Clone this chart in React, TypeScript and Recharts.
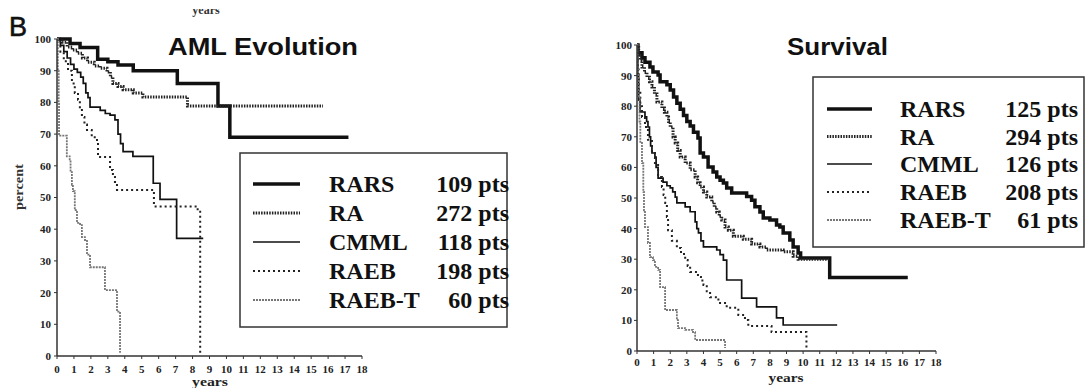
import React from "react";
import { LineChart, Line, XAxis, YAxis } from "recharts";

// ---------- data (years, percent) ----------
const xTicks = [0, 1, 2, 3, 4, 5, 6, 7, 8, 9, 10, 11, 12, 13, 14, 15, 16, 17, 18];
const yTicks = [0, 10, 20, 30, 40, 50, 60, 70, 80, 90, 100];

const seriesNames = ["RARS", "RA", "CMML", "RAEB", "RAEB-T"];
const amlCounts = ["109 pts", "272 pts", "118 pts", "198 pts", "60 pts"];
const survCounts = ["125 pts", "294 pts", "126 pts", "208 pts", "61 pts"];

const amlRARS = [[0,100],[0.77,98.6],[1.36,97.3],[2.4,93.6],[3.0,92.8],[3.6,91.8],[4.5,90],[7.1,86],[9.5,78.9],[10.2,69],[17.2,69]];
const amlRA = [[0,100],[0.3,99],[0.6,97.5],[0.9,96.5],[1.2,95.5],[1.5,94],[1.8,92.7],[2.2,91.5],[2.55,90.8],[2.95,89.6],[3.15,88],[3.3,86],[3.6,85],[3.9,84],[4.5,83],[5.07,81.7],[7.7,78.9],[15.7,78.9]];
const amlCMML = [[0,100],[0.2,98],[0.4,96],[0.6,94],[0.8,92],[1.0,90.5],[1.2,89.5],[1.4,88],[1.55,86],[1.7,83],[1.83,81.5],[1.95,78.5],[2.55,77.5],[2.85,76.5],[3.13,76],[3.42,74.5],[3.6,70],[3.75,67],[3.9,64.5],[4.48,63],[5.68,54.5],[6.08,49.4],[7.06,37.1],[8.63,37.1]];
const amlRAEB = [[0,100],[0.2,96],[0.4,93],[0.65,90],[0.88,86],[1.05,83],[1.24,80.8],[1.35,78],[1.47,75.4],[1.62,73],[1.77,71.3],[2.05,69],[2.36,67.2],[2.42,62.8],[3.13,58.7],[3.3,56.5],[3.42,54.9],[3.54,52.4],[5.72,47.2],[8.3,45.5],[8.45,1]];
const amlRAEBT = [[0,100],[0.05,90],[0.1,80],[0.12,69.5],[0.58,63],[0.75,62],[0.8,58],[0.88,54],[0.94,52],[1.05,46],[1.18,42],[1.36,41.3],[1.47,37.5],[1.65,36.6],[1.77,32],[1.95,28],[2.83,20.8],[3.54,14],[3.72,1]];

const survRARS = [[0,100],[0.06,97.5],[0.3,95.8],[0.48,94.4],[0.78,92.8],[0.96,91.2],[1.27,90.2],[1.39,88],[1.8,87],[2.0,85.3],[2.2,83],[2.4,81],[2.6,79],[2.8,77],[3.0,75],[3.2,73.5],[3.4,71.5],[3.67,69.6],[3.8,64.7],[4.0,63.4],[4.28,60.1],[4.58,58.5],[4.8,56.9],[5.0,55.8],[5.2,54.9],[5.4,53.3],[5.7,51.6],[6.6,50.5],[6.9,49.3],[7.1,47.1],[7.4,45.4],[7.6,43.5],[8.0,42.8],[8.4,41.2],[8.6,40.5],[8.8,38.6],[9.2,36.3],[9.4,34],[9.7,32],[9.85,30.4],[11.6,24],[16.3,24]];
const survRA = [[0,100],[0.1,97],[0.2,95],[0.3,92.8],[0.45,91],[0.6,89.5],[0.75,88],[0.9,86.3],[1.05,84],[1.2,81.4],[1.5,79.4],[1.65,78],[1.8,76.5],[1.9,75],[2.0,73.2],[2.17,69.9],[2.3,68],[2.45,65.5],[2.6,63.4],[2.9,61.4],[3.2,59.2],[3.5,56.9],[3.65,55],[3.8,53.6],[4.0,52],[4.2,50.3],[4.5,48.7],[4.65,47],[4.8,45.4],[4.95,44],[5.1,42.8],[5.3,40.5],[5.5,39.5],[5.8,37.5],[6.4,36.5],[6.9,35],[7.4,34],[7.8,33],[8.8,32.4],[9.4,31],[9.7,30],[11.6,30]];
const survCMML = [[0,100],[0.05,90],[0.1,82],[0.18,78.1],[0.48,76.5],[0.58,75],[0.66,73.2],[0.75,70],[0.82,67],[0.9,64.7],[1.08,63.4],[1.15,60],[1.27,56.5],[1.57,55.2],[1.8,54],[2.0,53.3],[2.15,52],[2.3,50.3],[2.4,48.4],[2.9,47.1],[3.2,45.5],[3.5,42.2],[3.6,40],[3.7,38.6],[3.85,36],[4.0,34],[4.8,33],[5.0,31.5],[5.2,29.7],[5.4,23.2],[6.3,17.3],[7.2,14.4],[8.4,10.8],[8.8,8.5],[12.05,8.5]];
const survRAEB = [[0,100],[0.05,92],[0.1,85],[0.2,80],[0.3,76.5],[0.48,73.2],[0.66,69],[0.9,64.7],[1.08,61.4],[1.27,56.9],[1.5,53.6],[1.6,51],[1.7,48.4],[1.8,43.8],[1.87,39.5],[2.1,36],[2.4,33.7],[2.65,31.7],[2.9,29.7],[3.05,27.8],[3.2,25.8],[3.67,24.2],[3.85,23],[4.0,21.6],[4.2,19.5],[4.4,17.6],[4.9,15.7],[5.4,14.1],[6.1,11.8],[6.5,10.1],[6.7,8.2],[8.1,6.2],[10.2,1]];
const survRAEBT = [[0,100],[0.03,92],[0.06,83],[0.15,75],[0.2,68],[0.3,61.4],[0.38,52],[0.42,46],[0.48,40.5],[0.66,35.3],[0.78,30.7],[0.96,29.7],[1.08,27.5],[1.27,26.5],[1.39,20.9],[1.69,13.4],[2.4,10.1],[2.47,7.5],[2.9,6.9],[3.37,6.2],[3.5,3.6],[5.3,1]];

// ---------- styles ----------
const lineStyles = [
  { stroke: "#111", width: 3.5, dash: undefined as string | undefined },
  { stroke: "#222", width: 3, dash: "1.5 1.2" },
  { stroke: "#111", width: 1.7, dash: undefined },
  { stroke: "#222", width: 2, dash: "2 3" },
  { stroke: "#777", width: 1.8, dash: "2 1" },
];

const toPts = (arr: number[][]) => arr.map(([x, y]) => ({ x, y }));

const amlSeries = [amlRARS, amlRA, amlCMML, amlRAEB, amlRAEBT].map(toPts);
const survSeries = [survRARS, survRA, survCMML, survRAEB, survRAEBT].map(toPts);

const tickFont = { fontSize: 11, fontWeight: "bold", fontFamily: "Liberation Serif", fill: "#222" } as any;
const serif = "Liberation Serif";
const sans = "Liberation Sans";

function Panel({ series, margin, yTickMargin, xTickMargin }: any) {
  return (
    <LineChart width={380} height={388} margin={margin}>
      <XAxis
        type="number"
        dataKey="x"
        domain={[0, 18]}
        ticks={xTicks}
        interval={0}
        allowDataOverflow
        height={20}
        tick={tickFont}
        tickSize={3}
        tickMargin={xTickMargin}
        axisLine={{ stroke: "#333", strokeWidth: 1.5 }}
        tickLine={{ stroke: "#333" }}
      />
      <YAxis
        type="number"
        dataKey="y"
        domain={[0, 100]}
        ticks={yTicks}
        interval={0}
        width={30}
        tick={tickFont}
        tickSize={3}
        tickMargin={yTickMargin}
        axisLine={{ stroke: "#333", strokeWidth: 1.5 }}
        tickLine={{ stroke: "#333" }}
      />
      {series.map((d: any[], i: number) => (
        <Line
          key={i}
          data={d}
          dataKey="y"
          type="stepAfter"
          stroke={lineStyles[i].stroke}
          strokeWidth={lineStyles[i].width}
          strokeDasharray={lineStyles[i].dash}
          dot={false}
          activeDot={false}
          isAnimationActive={false}
        />
      ))}
    </LineChart>
  );
}

function LegendBox({ x0, y0, x1, y1, sx0, sx1, labelX, numEnd, baselines, counts }: any) {
  return (
    <g>
      <rect x={x0} y={y0} width={x1 - x0} height={y1 - y0} fill="none" stroke="#333" strokeWidth={1.5} />
      {seriesNames.map((name, i) => (
        <g key={name}>
          <line
            x1={sx0}
            x2={sx1}
            y1={baselines[i] - 8}
            y2={baselines[i] - 8}
            stroke={lineStyles[i].stroke}
            strokeWidth={lineStyles[i].width}
            strokeDasharray={lineStyles[i].dash}
          />
          <text x={labelX} y={baselines[i]} fontFamily={serif} fontWeight="bold" fontSize={24} fill="#111">
            {name}
          </text>
          <text x={numEnd} y={baselines[i]} textAnchor="end" fontFamily={serif} fontWeight="bold" fontSize={24} fill="#111">
            {counts[i]}
          </text>
        </g>
      ))}
    </g>
  );
}

export default function App() {
  return (
    <div style={{ position: "absolute", left: 0, top: 0, width: 1088, height: 388, background: "#fff", overflow: "hidden" }}>
      <div style={{ position: "absolute", left: 0, top: 0 }}>
        <Panel series={amlSeries} margin={{ top: 39, right: 18, bottom: 12, left: 27 }} yTickMargin={3} xTickMargin={6} />
      </div>
      <div style={{ position: "absolute", left: 580, top: 0 }}>
        <Panel series={survSeries} margin={{ top: 45, right: 24, bottom: 17, left: 27 }} yTickMargin={2} xTickMargin={4} />
      </div>
      <svg width={1088} height={388} style={{ position: "absolute", left: 0, top: 0, pointerEvents: "none" }}>
        <defs>
          <clipPath id="topcut">
            <rect x={0} y={9} width={1088} height={20} />
          </clipPath>
        </defs>
        <text x={9} y={36} fontFamily={sans} fontSize={27} fill="#111" stroke="#111" strokeWidth={0.6}>B</text>
        <g clipPath="url(#topcut)">
          <text x={206} y={14} textAnchor="middle" fontFamily={serif} fontWeight="bold" fontSize={12} fill="#333">years</text>
        </g>
        <text x={168} y={55} fontFamily={sans} fontWeight="bold" fontSize={24} textLength={190} lengthAdjust="spacingAndGlyphs" fill="#111">
          AML Evolution
        </text>
        <text x={787} y={55} fontFamily={sans} fontWeight="bold" fontSize={24} textLength={101} lengthAdjust="spacingAndGlyphs" fill="#111">
          Survival
        </text>
        <text
          x={0}
          y={0}
          transform="translate(23,187) rotate(-90)"
          textAnchor="middle"
          fontFamily={serif}
          fontWeight="bold"
          fontSize={12}
          textLength={46}
          lengthAdjust="spacingAndGlyphs"
          fill="#333"
        >
          percent
        </text>
        <text x={210} y={386} textAnchor="middle" fontFamily={serif} fontWeight="bold" fontSize={12} textLength={36} lengthAdjust="spacingAndGlyphs" fill="#222">
          years
        </text>
        <text x={786} y={382} textAnchor="middle" fontFamily={serif} fontWeight="bold" fontSize={12} textLength={35} lengthAdjust="spacingAndGlyphs" fill="#222">
          years
        </text>
        <LegendBox
          x0={240} y0={153} x1={507} y1={327}
          sx0={253} sx1={300} labelX={329} numEnd={509}
          baselines={[192, 221, 250, 279, 308]}
          counts={amlCounts}
        />
        <LegendBox
          x0={813} y0={77} x1={1084} y1={247}
          sx0={827} sx1={872} labelX={900} numEnd={1078}
          baselines={[117, 144.5, 172, 200, 228]}
          counts={survCounts}
        />
      </svg>
    </div>
  );
}
